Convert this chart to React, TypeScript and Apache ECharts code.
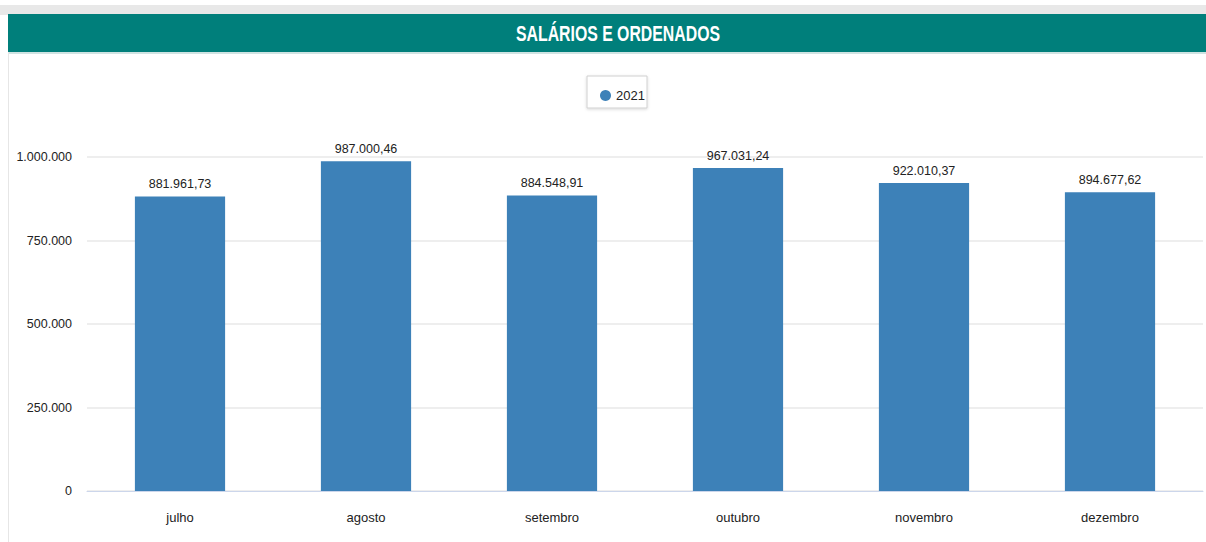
import React, { useEffect, useRef } from "react";
import * as echarts from "echarts";

const categories = ["julho", "agosto", "setembro", "outubro", "novembro", "dezembro"];
const values2021 = [881961.73, 987000.46, 884548.91, 967031.24, 922010.37, 894677.62];
const seriesName = "2021";
const titleText = "SALÁRIOS E ORDENADOS";

const FONT = "'Liberation Sans', Arial, sans-serif";

function fmtInt(v: number) {
  return Math.round(v).toString().replace(/\B(?=(\d{3})+(?!\d))/g, ".");
}
function fmtDec(v: number) {
  const [i, d] = v.toFixed(2).split(".");
  return i.replace(/\B(?=(\d{3})+(?!\d))/g, ".") + "," + d;
}

export default function App() {
  const ref = useRef<HTMLDivElement>(null);
  useEffect(() => {
    if (!ref.current) return;
    const chart = echarts.init(ref.current, undefined, { renderer: "svg" });
    chart.setOption({
      animation: false,
      backgroundColor: "#ffffff",
      graphic: [
        { type: "rect", shape: { x: 0, y: 5, width: 1206, height: 10 }, style: { fill: "#e8e8e8" } },
        { type: "rect", shape: { x: 8, y: 14, width: 1198, height: 38 }, style: { fill: "#007f7b" } },
        { type: "rect", shape: { x: 8, y: 52, width: 1198, height: 2 }, style: { fill: "#cfe3e2" } },
        { type: "line", shape: { x1: 8.5, y1: 52, x2: 8.5, y2: 542 }, style: { stroke: "#e6e6e6", lineWidth: 1 } },
        {
          type: "text",
          x: 618,
          y: 34,
          scaleX: 0.72,
          style: {
            text: titleText,
            fill: "#ffffff",
            font: `bold 22px ${FONT}`,
            textAlign: "center",
            textVerticalAlign: "middle",
          },
        },
        {
          type: "rect",
          shape: { x: 587, y: 76, width: 60, height: 32 },
          style: { fill: "#ffffff", stroke: "#d0d0d0", lineWidth: 1, shadowBlur: 3, shadowColor: "rgba(0,0,0,0.15)", shadowOffsetY: 1 },
          z: -1,
        },
      ],
      legend: {
        top: 84,
        left: 595,
        data: [seriesName],
        icon: "circle",
        itemWidth: 11,
        itemHeight: 13,
        itemGap: 6,
        textStyle: { fontFamily: FONT, fontSize: 13, color: "#222" },
      },
      grid: { left: 87, right: 3, top: 157, bottom: 51, containLabel: false },
      xAxis: {
        type: "category",
        data: categories,
        axisLine: { lineStyle: { color: "#ccd6eb", width: 1 } },
        axisTick: { show: false },
        axisLabel: { fontFamily: FONT, fontSize: 13, color: "#222", margin: 20 },
      },
      yAxis: {
        type: "value",
        min: 0,
        max: 1000000,
        interval: 250000,
        axisLine: { show: false },
        axisTick: { show: false },
        splitLine: { lineStyle: { color: "#eeeeee", width: 2 } },
        axisLabel: {
          fontFamily: FONT,
          fontSize: 12.5,
          color: "#222",
          margin: 15,
          formatter: (v: number) => fmtInt(v),
        },
      },
      series: [
        {
          name: seriesName,
          type: "bar",
          data: values2021,
          barWidth: "48.5%",
          itemStyle: { color: "#3d81b8" },
          label: {
            show: true,
            position: "top",
            distance: 6,
            fontFamily: FONT,
            fontSize: 12.5,
            color: "#222",
            formatter: (p: any) => fmtDec(p.value),
          },
        },
      ],
    });
    return () => chart.dispose();
  }, []);
  return (
    <div
      ref={ref}
      style={{ position: "absolute", left: 0, top: 0, width: 1206, height: 542 }}
    />
  );
}
